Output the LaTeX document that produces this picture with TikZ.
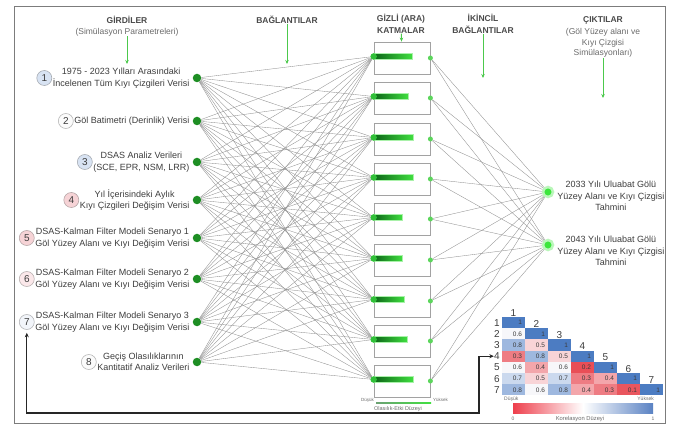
\documentclass[tikz,border=0pt]{standalone}
\usepackage{fontspec}
\setmainfont{Liberation Sans}
\usepackage{xcolor}
\usepackage{tikz}
\usetikzlibrary{positioning, arrows.meta}

\definecolor{framegray}{HTML}{7C7C7C}
\definecolor{hdgray}{HTML}{4A4A4A}
\definecolor{subgray}{HTML}{6A6A6A}
\definecolor{txtgray}{HTML}{3C3C3C}
\definecolor{arrgreen}{HTML}{4CC94C}
\definecolor{dotgreen}{HTML}{1E8E24}
\definecolor{hidgreen}{HTML}{30C038}
\definecolor{hidlite}{HTML}{5CD65C}
\definecolor{outgreen}{HTML}{3DE63D}
\definecolor{bardark}{HTML}{0C6418}
\definecolor{barlite}{HTML}{40E040}
\definecolor{linkgray}{HTML}{909090}
\definecolor{boxgray}{HTML}{A2A2A2}
\definecolor{nblue}{HTML}{D8E3F3}
\definecolor{npink}{HTML}{F6D3D6}
\definecolor{npale}{HTML}{FBE8EA}
\definecolor{nice}{HTML}{F2F5FA}
\definecolor{nwhite}{HTML}{FBFBFB}
\definecolor{corr1}{HTML}{E9565E}
\definecolor{corr2}{HTML}{E94E57}
\definecolor{corr3}{HTML}{EE7C83}
\definecolor{corr4}{HTML}{F3A6AB}
\definecolor{corr5}{HTML}{F8D4D7}
\definecolor{corr6}{HTML}{F7F7FA}
\definecolor{corr7}{HTML}{CBD9EE}
\definecolor{corr8}{HTML}{9EB8DF}
\definecolor{corr10}{HTML}{4C7CC2}
\definecolor{cbred}{HTML}{EE3F4C}
\definecolor{cbblue}{HTML}{5A82C3}

\tikzset{
  hd/.style={font=\bfseries\fontsize{8.5}{11.5}\selectfont, text=hdgray, align=center, inner sep=0pt},
  subhd/.style={font=\fontsize{8.5}{10.5}\selectfont, text=subgray, align=center, inner sep=0pt},
  intxt/.style={font=\fontsize{9}{11.5}\selectfont, text=txtgray, align=center, inner sep=0pt},
  numc/.style={circle, draw=#1!45!gray, fill=#1, line width=0.6pt, minimum size=15pt, inner sep=0pt,
    font=\fontsize{10}{10}\selectfont, text=txtgray},
  indot/.style={circle, fill=dotgreen, minimum size=8.5pt, inner sep=0pt},
  hbox/.style={draw=boxgray, line width=0.8pt, minimum width=56pt, minimum height=32pt, inner sep=0pt},
  hdot/.style={circle, fill=hidgreen, minimum size=6.5pt, inner sep=0pt},
  rdot/.style={circle, fill=hidlite, minimum size=5pt, inner sep=0pt},
  outdot/.style={circle, fill=outgreen, draw=outgreen!35, line width=2.5pt, minimum size=10pt, inner sep=0pt},
  lnk/.style={draw=linkgray, line width=0.35pt},
  garr/.style={draw=arrgreen, line width=1pt, -{Stealth[length=4pt, width=3.5pt]}},
  fb/.style={draw=black!85, line width=1.1pt, {Stealth[length=4.5pt, width=4pt]}-{Stealth[length=4.5pt, width=4pt]}},
  cell/.style={minimum height=11.2pt, text width=17pt, inner xsep=3pt, inner ysep=0pt, align=right,
    font=\fontsize{6.5}{7}\selectfont, text=txtgray},
  mlbl/.style={font=\fontsize{10}{10}\selectfont, text=txtgray, inner sep=0pt},
  smalltxt/.style={font=\fontsize{5}{6}\selectfont, text=subgray, inner sep=0pt}
}

\begin{document}
\begin{tikzpicture}[x=1pt, y=-1pt]
  \useasboundingbox (0,0) rectangle (674,427);
  \draw[framegray, line width=1pt] (14,7) rectangle (665,423);

  \node[hd] (gir) at (127,20) {GİRDİLER};
  \node[subhd] (girsub) at (127,32) {(Simülasyon Parametreleri)};
  \node[hd] (bag) at (287,20) {BAĞLANTILAR};
  \node[hd] (gizli) at (401,24) {GİZLİ (ARA)\\KATMALAR};
  \node[hd] (ikn) at (483,24) {İKİNCİL\\BAĞLANTILAR};
  \node[hd] (cik) at (603,20) {ÇIKTILAR};
  \node[subhd] (ciksub) at (603,43) {(Göl Yüzey alanı ve\\Kıyı Çizgisi\\Simülasyonları)};
  \coordinate (girend) at (127,64);
  \coordinate (bagend) at (287,64);
  \coordinate (iknend) at (483,78);
  \coordinate (cikend) at (603,98);

  \node[indot] (in1) at (197,78) {};
  \node[indot] (in2) at (197,121) {};
  \node[indot] (in3) at (197,162) {};
  \node[indot] (in4) at (197,200) {};
  \node[indot] (in5) at (197,238) {};
  \node[indot] (in6) at (197,279) {};
  \node[indot] (in7) at (197,322) {};
  \node[indot] (in8) at (197,362) {};
  \node[intxt, left=3pt of in1] (t1) {1975 - 2023 Yılları Arasındaki\\İncelenen Tüm Kıyı Çizgileri Verisi};
  \node[intxt, left=3pt of in2] (t2) {Göl Batimetri (Derinlik) Verisi};
  \node[intxt, left=3pt of in3] (t3) {DSAS Analiz Verileri\\(SCE, EPR, NSM, LRR)};
  \node[intxt, left=3pt of in4] (t4) {Yıl İçerisindeki Aylık\\Kıyı Çizgileri Değişim Verisi};
  \node[intxt, left=3pt of in5] (t5) {DSAS-Kalman Filter Modeli Senaryo 1\\Göl Yüzey Alanı ve Kıyı Değişim Verisi};
  \node[intxt, left=3pt of in6] (t6) {DSAS-Kalman Filter Modeli Senaryo 2\\Göl Yüzey Alanı ve Kıyı Değişim Verisi};
  \node[intxt, left=3pt of in7] (t7) {DSAS-Kalman Filter Modeli Senaryo 3\\Göl Yüzey Alanı ve Kıyı Değişim Verisi};
  \node[intxt, left=3pt of in8] (t8) {Geçiş Olasılıklarının\\Kantitatif Analiz Verileri};
  \node[numc=nblue, left=0.5pt of t1] (n1) {1};
  \node[numc=nwhite, left=0.5pt of t2] (n2) {2};
  \node[numc=nblue, left=0.5pt of t3] (n3) {3};
  \node[numc=npink, left=0.5pt of t4] (n4) {4};
  \node[numc=npink, left=0.5pt of t5] (n5) {5};
  \node[numc=npale, left=0.5pt of t6] (n6) {6};
  \node[numc=nice, left=0.5pt of t7] (n7) {7};
  \node[numc=nwhite, left=0.5pt of t8] (n8) {8};

  \foreach \j/\y/\w in {1/58/39, 2/98/35, 3/139/40, 4/179/40, 5/219/29, 6/260/29, 7/301/31, 8/341/34, 9/381/40} {
    \node[hbox] (h\j) at (402,\y) {};
    \shade[left color=bardark, right color=barlite, draw=barlite!45, line width=0.8pt]
      ([yshift=4.5pt]h\j.west) rectangle ++(\w,6);
    \node[hdot] (hl\j) at ([yshift=1.5pt]h\j.west) {};
    \node[rdot] (hr\j) at (h\j.east) {};
  }

  \node[outdot] (o1) at (548,192) {};
  \node[outdot] (o2) at (548,245) {};
  \node[intxt, right=3pt of o1, yshift=-4pt] (ot1) {2033 Yılı Uluabat Gölü\\Yüzey Alanı ve Kıyı Çizgisi\\Tahmini};
  \node[intxt, right=3pt of o2, yshift=-6pt] (ot2) {2043 Yılı Uluabat Gölü\\Yüzey Alanı ve Kıyı Çizgisi\\Tahmini};

  \draw[garr] (girsub) -- (girend);
  \draw[garr] (bag) -- (bagend);
  \draw[garr] (gizli) -- (h1);
  \draw[garr] (ikn) -- (iknend);
  \draw[garr] (ciksub) -- (cikend);

  \foreach \i in {1,...,8}
    \foreach \j in {1,...,9}
      \draw[lnk] (in\i) -- (hl\j);
  \foreach \j in {1,...,9} {
    \draw[lnk] (hr\j) -- (o1);
    \draw[lnk] (hr\j) -- (o2);
  }

  \shade[left color=bardark!60, right color=barlite] (376,402.5) rectangle (431,403.8);
  \node[smalltxt, font=\fontsize{4.5}{5}\selectfont, anchor=east] (dus1) at (374,400) {Düşük};
  \node[smalltxt, font=\fontsize{4.5}{5}\selectfont, anchor=west] (yuk1) at (433,400) {Yüksek};
  \node[smalltxt, font=\fontsize{5.5}{6}\selectfont] (olas) at (398,409) {Olasılık-Etki Düzeyi};

  \foreach \r/\col/\v in {1/1/10, 2/1/6, 2/2/10, 3/1/8, 3/2/5, 3/3/10, 4/1/3, 4/2/8, 4/3/5, 4/4/10,
      5/1/6, 5/2/4, 5/3/6, 5/4/2, 5/5/10, 6/1/7, 6/2/5, 6/3/7, 6/4/3, 6/5/4, 6/6/10,
      7/1/8, 7/2/6, 7/3/8, 7/4/4, 7/5/3, 7/6/1, 7/7/10}
    \node[cell, fill=corr\v] (m\r\col) at ({513.5+23*(\col-1)}, {322.6+11.2*(\r-1)}) {\ifnum\v=10 1\else 0.\v\fi};
  \foreach \r in {1,...,7}
    \node[mlbl, anchor=east] (r\r) at ([xshift=-2pt]m\r1.west) {\r};
  \foreach \col in {1,...,7}
    \node[mlbl, anchor=south] (c\col) at ([yshift=0.5pt]m\col\col.north) {\col};

  \shade[left color=cbred, right color=white] (513,403) rectangle (583,413);
  \shade[left color=white, right color=cbblue] (583,403) rectangle (653,413);
  \node[smalltxt, anchor=west] (dus2) at (504,399) {Düşük};
  \node[smalltxt, anchor=east] (yuk2) at (654,399) {Yüksek};
  \node[smalltxt] (sif) at (513,419) {0};
  \node[smalltxt] (bir) at (653,419) {1};
  \node[smalltxt, font=\fontsize{5.8}{7}\selectfont] (kor) at (580,419) {Korelasyon Düzeyi};

  \coordinate (fbturn) at (479,413);
  \draw[fb, shorten <=3pt] (n7.south) |- (fbturn) |- (r4.west);
\end{tikzpicture}
\end{document}
